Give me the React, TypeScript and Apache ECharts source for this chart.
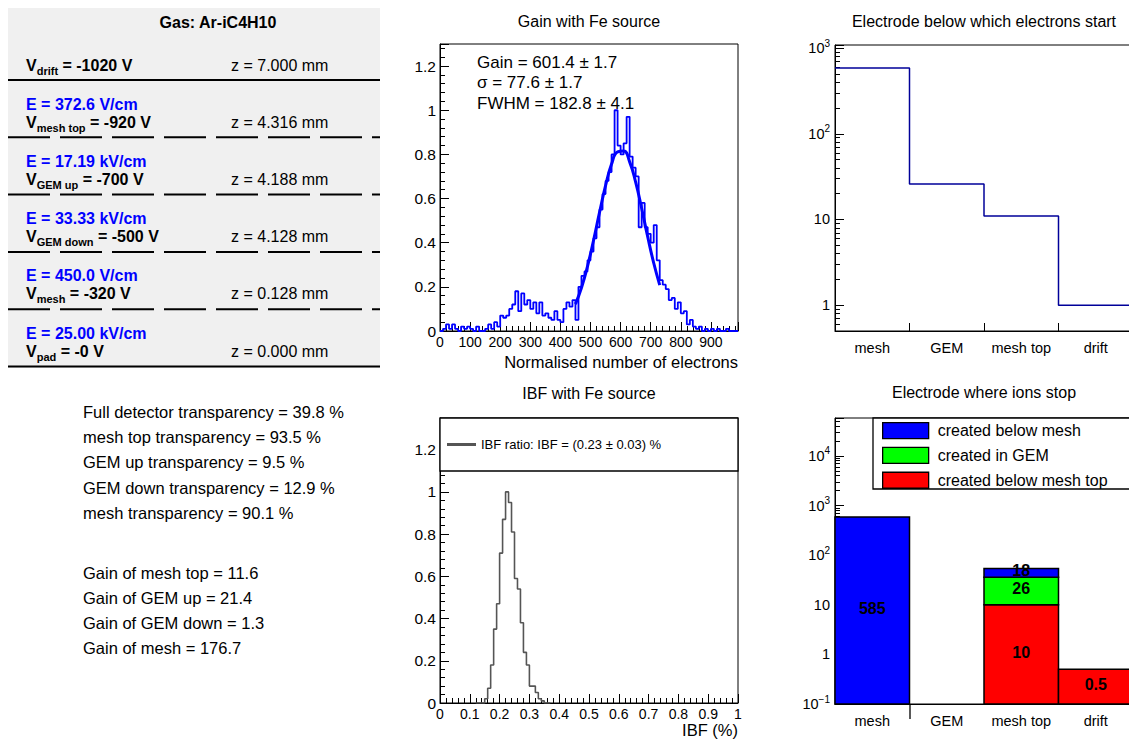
import React, { useEffect, useRef } from 'react';
import * as echarts from 'echarts';

const FONT = '"Liberation Sans", Arial, Helvetica, sans-serif';

// ---------- left information panel ----------
const gasLabel = 'Gas: Ar-iC4H10';
const electrodeSubscripts = ['drift', 'mesh top', 'GEM up', 'GEM down', 'mesh', 'pad'];
const electrodeVoltages = ['-1020 V', '-920 V', '-700 V', '-500 V', '-320 V', '-0 V'];
const electrodeZ = ['7.000 mm', '4.316 mm', '4.188 mm', '4.128 mm', '0.128 mm', '0.000 mm'];
const fieldValues = ['372.6 V/cm', '17.19 kV/cm', '33.33 kV/cm', '450.0 V/cm', '25.00 kV/cm'];
const transparencyLines = [
  'Full detector transparency = 39.8 %',
  'mesh top transparency = 93.5 %',
  'GEM up transparency = 9.5 %',
  'GEM down transparency = 12.9 %',
  'mesh transparency = 90.1 %',
];
const gainLines = [
  'Gain of mesh top = 11.6',
  'Gain of GEM up = 21.4',
  'Gain of GEM down = 1.3',
  'Gain of mesh = 176.7',
];

// ---------- Gain with Fe source ----------
const gainTitle = 'Gain with Fe source';
const gainAxisTitle = 'Normalised number of electrons';
const gainBinWidth = 10;
const gainValues = [
  0.0, 0.01, 0.03, 0.01, 0.03, 0.01, 0.0, 0.02, 0.01, 0.02,
  0.01, 0.0, 0.02, 0.0, 0.0, 0.01, 0.03, 0.01, 0.04, 0.02,
  0.07, 0.06, 0.07, 0.1, 0.12, 0.18, 0.09, 0.17, 0.12, 0.14,
  0.1, 0.13, 0.08, 0.13, 0.07, 0.08, 0.06, 0.05, 0.09, 0.05,
  0.04, 0.1, 0.13, 0.11, 0.14, 0.05, 0.2, 0.25, 0.27, 0.32,
  0.36, 0.42, 0.47, 0.55, 0.62, 0.68, 0.72, 0.8, 1.0, 0.84,
  0.8, 0.85, 0.97, 0.79, 0.74, 0.7, 0.47, 0.58, 0.47, 0.44,
  0.4, 0.48, 0.32, 0.23, 0.21, 0.19, 0.14, 0.15, 0.1, 0.13,
  0.08, 0.09, 0.03, 0.05, 0.02, 0.01, 0.02, 0.0, 0.01, 0.0,
  0.01, 0.0, 0.01, 0.0, 0.0, 0.01, 0.0, 0.0, 0.0,
];
const fitX = [450, 470, 490, 510, 530, 550, 570, 590, 610, 630, 650, 670, 690, 710, 730];
const fitY = [0.122, 0.196, 0.293, 0.41, 0.537, 0.658, 0.756, 0.811, 0.815, 0.766, 0.674, 0.555, 0.427, 0.308, 0.208];
const gainStats = ['Gain = 601.4 ± 1.7', 'σ = 77.6 ± 1.7', 'FWHM = 182.8 ± 4.1'];

// ---------- Electrode below which electrons start ----------
const startTitle = 'Electrode below which electrons start';
const electrodeCategories = ['mesh', 'GEM', 'mesh top', 'drift'];
const electronStartCounts = [585, 26, 11, 1];

// ---------- IBF with Fe source ----------
const ibfTitle = 'IBF with Fe source';
const ibfAxisTitle = 'IBF (%)';
const ibfLegend = 'IBF ratio: IBF = (0.23 ± 0.03) %';
const ibfBinWidth = 0.01;
const ibfFirstEdge = 0.12;
const ibfValues = [
  0, 0, 0, 0.02, 0.07, 0.18, 0.35, 0.47, 0.71, 0.87, 1.0, 0.95, 0.81,
  0.59, 0.54, 0.38, 0.24, 0.18, 0.08, 0.08, 0.05, 0.02, 0.01, 0, 0,
];

// ---------- Electrode where ions stop ----------
const ionsTitle = 'Electrode where ions stop';
const ionSeriesNames = ['created below mesh', 'created in GEM', 'created below mesh top'];
const ionSeriesColors = ['#0000ff', '#00ff00', '#ff0000'];
const ionBelowMesh = [585, 0, 18, 0];
const ionInGEM = [0, 0, 26, 0];
const ionBelowMeshTop = [0, 0, 10, 0.5];
const ionStackOrder = [2, 1, 0]; // bottom to top: red, green, blue

const logMinorValues = (lo: number, hi: number) => {
  const out: number[] = [];
  for (let e = -2; e <= 5; e++) {
    for (let m = 2; m <= 9; m++) {
      const v = m * Math.pow(10, e);
      if (v > lo && v < hi) out.push(v);
    }
  }
  return out;
};

const logLabel = (v: number) => {
  const l = Math.log10(v);
  const e = Math.round(l);
  if (Math.abs(l - e) > 1e-6) return '';
  if (e === 0) return '1';
  if (e === 1) return '10';
  return '10{sup|' + (e < 0 ? '−' + -e : String(e)) + '}';
};

function textEl(text: string, x: number, y: number, o: any = {}) {
  const align = o.align ?? 'left';
  return {
    type: 'text',
    x,
    y,
    z: o.z ?? 1,
    style: {
      text,
      fontFamily: FONT,
      fontSize: o.size ?? 16,
      fontWeight: o.bold ? 'bold' : 'normal',
      fill: o.color ?? '#000',
      align,
      textAlign: align,
      verticalAlign: 'middle',
      textVerticalAlign: 'middle',
      rich: o.rich,
    },
  };
}

function linAxis(gridIndex: number, min: number, max: number, interval: number, labelSize: number, showMax: boolean) {
  return {
    type: 'value',
    gridIndex,
    min,
    max,
    interval,
    axisLine: { show: true, onZero: false, lineStyle: { color: '#000', width: 1 } },
    axisTick: { show: true, inside: true, length: 9, lineStyle: { color: '#000', width: 1 } },
    minorTick: { show: true, splitNumber: 5, length: 5, lineStyle: { color: '#000', width: 1 } },
    splitLine: { show: false },
    minorSplitLine: { show: false },
    axisLabel: { color: '#000', fontSize: labelSize, fontFamily: FONT, margin: 4, showMaxLabel: showMax },
  };
}

function logAxis(gridIndex: number, min: number, max: number) {
  return {
    type: 'log',
    logBase: 10,
    gridIndex,
    min,
    max,
    position: 'left',
    axisLine: { show: true, onZero: false, lineStyle: { color: '#000', width: 1 } },
    axisTick: { show: true, inside: true, length: 9, lineStyle: { color: '#000', width: 1 } },
    splitLine: { show: false },
    axisLabel: {
      color: '#000',
      fontSize: 14.5,
      fontFamily: FONT,
      margin: 5,
      formatter: logLabel,
      rich: { sup: { fontSize: 10, fontFamily: FONT, color: '#000', padding: [0, 0, 10, 0] } },
    },
  };
}

function logMinorAxis(gridIndex: number, min: number, max: number) {
  return {
    type: 'log',
    logBase: 10,
    gridIndex,
    min,
    max,
    position: 'left',
    axisLine: { show: false },
    axisLabel: { show: false },
    splitLine: { show: false },
    axisTick: {
      show: true,
      inside: true,
      length: 5,
      customValues: logMinorValues(min, max),
      lineStyle: { color: '#000', width: 1 },
    },
  };
}

function catAxis(gridIndex: number, tick: any) {
  return {
    type: 'category',
    gridIndex,
    data: electrodeCategories,
    boundaryGap: true,
    axisLine: { show: true, onZero: false, lineStyle: { color: '#000', width: 1 } },
    axisTick: tick,
    splitLine: { show: false },
    axisLabel: { color: '#000', fontSize: 14.5, fontFamily: FONT, margin: 9, interval: 0 },
  };
}

function buildOption() {
  const graphics: any[] = [];
  // info panel
  graphics.push({ type: 'rect', shape: { x: 8, y: 8, width: 372, height: 360 }, style: { fill: '#f0f0f0' }, z: 0 });
  graphics.push(textEl(gasLabel, 218, 22, { bold: true, align: 'center' }));
  const subRich = { s: { fontFamily: FONT, fontSize: 11, fontWeight: 'bold', fill: '#000', color: '#000', padding: [11, 0, 0, 0] } };
  for (let i = 0; i < electrodeSubscripts.length; i++) {
    const vy = 65 + 57.2 * i;
    if (i > 0) {
      graphics.push(textEl('E = ' + fieldValues[i - 1], 26, vy - 18, { bold: true, color: '#0000ff' }));
    }
    graphics.push(
      textEl('V{s|' + electrodeSubscripts[i] + '} = ' + electrodeVoltages[i], 26, vy, { bold: true, rich: subRich })
    );
    graphics.push(textEl('z = ' + electrodeZ[i], 231, vy));
    const ly = 80 + 57.3 * i;
    const solid = i === 0 || i === electrodeSubscripts.length - 1;
    graphics.push({
      type: 'line',
      z: 1,
      shape: { x1: 8, y1: ly, x2: 380, y2: ly },
      style: { stroke: '#000', lineWidth: 2, lineDash: solid ? null : [42, 10] },
    });
  }
  transparencyLines.forEach((t, i) => graphics.push(textEl(t, 83, 412 + 25.2 * i, { size: 16.5 })));
  gainLines.forEach((t, i) => graphics.push(textEl(t, 83, 572.7 + 25.2 * i, { size: 16.5 })));

  // gain panel texts
  gainStats.forEach((t, i) => graphics.push(textEl(t, 477, 62 + 20.8 * i, { size: 17 })));
  graphics.push(textEl(gainAxisTitle, 738, 361.5, { size: 16.5, align: 'right' }));
  graphics.push(textEl(ibfAxisTitle, 738, 730, { size: 16.5, align: 'right' }));

  // legend boxes
  graphics.push({
    type: 'rect',
    z: 10,
    shape: { x: 440, y: 418, width: 298, height: 53 },
    style: { fill: '#fff', stroke: '#000', lineWidth: 1.3 },
  });
  graphics.push({
    type: 'rect',
    z: 10,
    shape: { x: 873, y: 418, width: 262, height: 71 },
    style: { fill: '#fff', stroke: '#000', lineWidth: 1.3 },
  });
  // the single outward tick under the mesh/GEM boundary of the ions axis
  graphics.push({
    type: 'line',
    z: 5,
    shape: { x1: 910, y1: 704, x2: 910, y2: 719 },
    style: { stroke: '#000', lineWidth: 1.3 },
  });

  const gainHist = gainValues.map((v, i) => [i * gainBinWidth, v]);
  gainHist.push([gainValues.length * gainBinWidth, gainValues[gainValues.length - 1]]);
  const fitData = fitX.map((x, i) => [x, fitY[i]]);
  const startData = electronStartCounts.map((v, i) => [i, v]);
  startData.push([electronStartCounts.length, electronStartCounts[electronStartCounts.length - 1]]);
  const ibfHist = ibfValues.map((v, i) => [ibfFirstEdge + i * ibfBinWidth, v]);
  ibfHist.push([ibfFirstEdge + ibfValues.length * ibfBinWidth, ibfValues[ibfValues.length - 1]]);

  const ionsMin = 0.1;
  const ionsMax = 58000;
  const ionArrays = [ionBelowMesh, ionInGEM, ionBelowMeshTop];
  const cum = electrodeCategories.map(() => 0);
  const ionData: any[][] = [[], [], []];
  ionStackOrder.forEach((s) => {
    ionArrays[s].forEach((v, c) => {
      if (v > 0) {
        const lo = Math.max(cum[c], ionsMin);
        cum[c] += v;
        ionData[s].push([c, lo, cum[c], v]);
      }
    });
  });

  const renderIon = (params: any, api: any) => {
    const cat = api.value(0);
    const lo = api.value(1);
    const hi = api.value(2);
    const v = api.value(3);
    const pLo = api.coord([cat, lo]);
    const pHi = api.coord([cat, hi]);
    const bw = api.size([1, 0])[0];
    return {
      type: 'group',
      children: [
        {
          type: 'rect',
          shape: { x: pLo[0] - bw / 2, y: pHi[1], width: bw, height: pLo[1] - pHi[1] },
          style: { fill: api.visual('color'), stroke: '#000', lineWidth: 1.5 },
        },
        {
          type: 'text',
          x: pLo[0],
          y: (pLo[1] + pHi[1]) / 2 - 2,
          z2: 10,
          style: {
            text: String(v),
            fontFamily: FONT,
            fontSize: 16,
            fontWeight: 'bold',
            fill: '#000',
            align: 'center',
            textAlign: 'center',
            verticalAlign: 'middle',
            textVerticalAlign: 'middle',
          },
        },
      ],
    };
  };

  const titleStyle = { fontSize: 16, fontWeight: 'normal', color: '#000', fontFamily: FONT };

  return {
    animation: false,
    textStyle: { fontFamily: FONT },
    title: [
      { text: gainTitle, left: 589, top: 13, textAlign: 'center', padding: 0, textStyle: titleStyle },
      { text: startTitle, left: 984, top: 13, textAlign: 'center', padding: 0, textStyle: titleStyle },
      { text: ibfTitle, left: 589, top: 385, textAlign: 'center', padding: 0, textStyle: titleStyle },
      { text: ionsTitle, left: 984, top: 384, textAlign: 'center', padding: 0, textStyle: titleStyle },
    ],
    grid: [
      { left: 440, top: 44, width: 298, height: 287, show: true, borderColor: '#000', borderWidth: 1, outerBoundsMode: 'none' },
      { left: 835, top: 45, width: 298, height: 286, show: true, borderColor: '#000', borderWidth: 1, outerBoundsMode: 'none' },
      { left: 440, top: 418, width: 298, height: 285, show: true, borderColor: '#000', borderWidth: 1, outerBoundsMode: 'none' },
      { left: 835, top: 418, width: 298, height: 286, show: true, borderColor: '#000', borderWidth: 1, outerBoundsMode: 'none' },
    ],
    xAxis: [
      linAxis(0, 0, 990, 100, 14, false),
      catAxis(1, { show: true, inside: true, length: 8, interval: 0, lineStyle: { color: '#000' } }),
      { type: 'value', gridIndex: 1, min: 0, max: 4, show: false },
      linAxis(2, 0, 1, 0.1, 14, true),
      catAxis(3, { show: false }),
    ],
    yAxis: [
      linAxis(0, 0, 1.3, 0.2, 15.5, false),
      logAxis(1, 0.5, 1085),
      logMinorAxis(1, 0.5, 1085),
      linAxis(2, 0, 1.35, 0.2, 15.5, false),
      logAxis(3, ionsMin, ionsMax),
      logMinorAxis(3, ionsMin, ionsMax),
    ],
    legend: [
      {
        data: [{ name: ibfLegend, icon: 'rect' }],
        left: 447,
        top: 438,
        padding: 0,
        itemWidth: 29,
        itemHeight: 3,
        selectedMode: false,
        z: 20,
        textStyle: { fontSize: 13, color: '#000', fontFamily: FONT, lineHeight: 13 },
      },
      {
        data: ionSeriesNames.map((name) => ({ name, icon: 'rect' })),
        orient: 'vertical',
        left: 882,
        top: 422,
        padding: 0,
        itemWidth: 46,
        itemHeight: 16,
        itemGap: 7.5,
        selectedMode: false,
        z: 20,
        itemStyle: { borderColor: '#000', borderWidth: 1.3 },
        textStyle: { fontSize: 16, color: '#000', fontFamily: FONT, lineHeight: 16, padding: [0, 0, 0, 4] },
      },
    ],
    graphic: { elements: graphics },
    series: [
      {
        type: 'line',
        name: 'gain histogram',
        xAxisIndex: 0,
        yAxisIndex: 0,
        data: gainHist,
        step: 'end',
        symbol: 'none',
        silent: true,
        lineStyle: { color: '#0000ff', width: 1.8 },
        itemStyle: { color: '#0000ff' },
      },
      {
        type: 'line',
        name: 'gain fit',
        xAxisIndex: 0,
        yAxisIndex: 0,
        data: fitData,
        smooth: true,
        symbol: 'none',
        silent: true,
        lineStyle: { color: '#0000ff', width: 3 },
        itemStyle: { color: '#0000ff' },
      },
      {
        type: 'line',
        name: 'electron start',
        xAxisIndex: 2,
        yAxisIndex: 1,
        data: startData,
        step: 'end',
        symbol: 'none',
        silent: true,
        lineStyle: { color: '#000099', width: 1.5 },
        itemStyle: { color: '#000099' },
      },
      {
        type: 'line',
        name: ibfLegend,
        xAxisIndex: 3,
        yAxisIndex: 3,
        data: ibfHist,
        step: 'end',
        symbol: 'none',
        silent: true,
        lineStyle: { color: '#555555', width: 1.6 },
        itemStyle: { color: '#555555' },
      },
      ...ionSeriesNames.map((name, s) => ({
        type: 'custom',
        name,
        xAxisIndex: 4,
        yAxisIndex: 4,
        z: 2 + ionStackOrder.indexOf(s),
        data: ionData[s],
        encode: { x: 0, y: [1, 2] },
        itemStyle: { color: ionSeriesColors[s] },
        silent: true,
        renderItem: renderIon,
      })),
    ],
  };
}

export default function App() {
  const ref = useRef<HTMLDivElement>(null);
  useEffect(() => {
    if (!ref.current) return;
    const chart = echarts.init(ref.current, undefined, { renderer: 'svg' });
    chart.setOption(buildOption() as any);
    return () => chart.dispose();
  }, []);
  return (
    <div
      ref={ref}
      style={{ position: 'absolute', left: 0, top: 0, width: 1129, height: 740, background: '#fff' }}
    />
  );
}
